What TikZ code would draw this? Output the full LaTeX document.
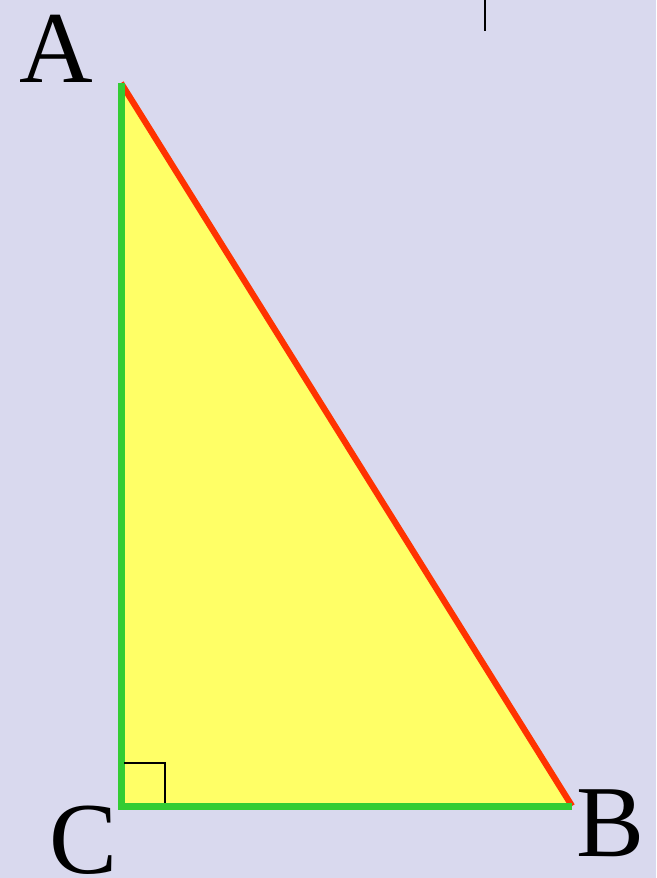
\documentclass[tikz,border=0pt]{standalone}
\usepackage{fontspec}
\setmainfont{Liberation Serif}
\definecolor{bgc}{RGB}{217,217,238}
\definecolor{fillc}{RGB}{255,255,102}
\definecolor{redc}{RGB}{255,51,0}
\definecolor{greenc}{RGB}{51,204,51}
\tikzset{
  lbl/.style={inner sep=0pt, font=\fontsize{102}{102}\selectfont},
  leg/.style={draw=greenc, line width=7pt},
  hyp/.style={draw=redc, line width=6.2pt},
}
\begin{document}
\begin{tikzpicture}[x=1pt,y=-1pt]
\fill[bgc] (0,0) rectangle (656,878);
\useasboundingbox (0,0) rectangle (656,878);
\coordinate (A) at (121,83);
\coordinate (B) at (572,806);
\coordinate (C) at (121,806);
\fill[fillc] (A) -- (B) -- (C) -- cycle;
\draw[hyp] (A) -- (B);
\draw[leg] (A) -- (C) -- (B);
\coordinate (r1) at (124,763);
\coordinate (r2) at (165,763);
\coordinate (r3) at (165,803);
\draw[black, line width=1.5pt] (r1) -- (r2) -- (r3);
\coordinate (t1) at (485,0);
\coordinate (t2) at (485,31);
\draw[black, line width=1.5pt] (t1) -- (t2);
\node[lbl] (lA) at (56,49) {A};
\node[lbl] (lB) at (611,823) {B};
\node[lbl] (lC) at (84,840) {C};
\end{tikzpicture}
\end{document}
